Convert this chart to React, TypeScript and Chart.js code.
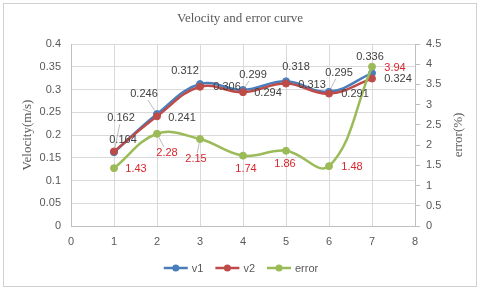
import React, { useEffect, useRef } from 'react';
import { Chart, registerables } from 'chart.js';
Chart.register(...registerables);

const titleText = 'Velocity and error curve';
const leftAxisTitle = 'Velocity(m/s)';
const rightAxisTitle = 'error(%)';
const xValues = [1, 2, 3, 4, 5, 6, 7];
const v1Values = [0.162, 0.246, 0.312, 0.299, 0.318, 0.295, 0.336];
const v2Values = [0.164, 0.241, 0.306, 0.294, 0.313, 0.291, 0.324];
const errorValues = [1.43, 2.28, 2.15, 1.74, 1.86, 1.48, 3.94];
const seriesNames = ['v1', 'v2', 'error'];
const seriesColors = ['#4A7EBB', '#BE4B48', '#9BBB59'];

// label placement (offset of label centre from its point) – styling only
const labelOffsets = [
  [[7, -34], [-13, -20], [-15, -13], [10, -15], [10, -14], [10, -19], [-2, -16]],
  [[9, -11], [25, 2], [27, 0], [25, 1], [26, 1], [26, 0], [26, 0]],
  [[22, 1], [10, 19], [-4, 20], [3, 13], [-1, 13], [23, 1], [23, 1]],
];
const leaderFlags = [
  [true, true, false, true, false, true, false],
  [false, false, false, false, false, false, false],
  [false, true, true, false, false, false, false],
];
const labelColors = ['#404040', '#404040', '#D8262D'];

const SANS = '"Liberation Sans", Arial, sans-serif';
const SERIF = '"Liberation Serif", "Times New Roman", serif';

const fmt = (v: any) => String(Math.round(Number(v) * 1000) / 1000);

const decorPlugin = {
  id: 'decor',
  beforeDraw(chart: any) {
    const ctx = chart.ctx;
    ctx.save();
    ctx.fillStyle = '#ffffff';
    ctx.fillRect(0, 0, chart.width, chart.height);
    ctx.strokeStyle = '#d0d0d0';
    ctx.lineWidth = 1;
    ctx.strokeRect(3.5, 3.5, chart.width - 7, chart.height - 7);
    ctx.restore();
  },
  afterDatasetsDraw(chart: any) {
    const ctx = chart.ctx;
    const values = [v1Values, v2Values, errorValues];
    ctx.save();
    ctx.font = `11px ${SANS}`;
    ctx.textAlign = 'center';
    ctx.textBaseline = 'middle';
    values.forEach((vals, di) => {
      const meta = chart.getDatasetMeta(di);
      vals.forEach((v, j) => {
        const pt = meta.data[j];
        const [dx, dy] = labelOffsets[di][j];
        const lx = pt.x + dx;
        const ly = pt.y + dy;
        const text = String(v);
        const w = ctx.measureText(text).width;
        if (leaderFlags[di][j]) {
          const vx = pt.x - lx;
          const vy = pt.y - ly;
          const len = Math.hypot(vx, vy);
          const ux = vx / len;
          const uy = vy / len;
          const hw = w / 2 + 1;
          const hh = 6;
          const t = Math.min(Math.abs(ux) > 1e-6 ? hw / Math.abs(ux) : 1e9, Math.abs(uy) > 1e-6 ? hh / Math.abs(uy) : 1e9);
          ctx.strokeStyle = '#a6a6a6';
          ctx.lineWidth = 0.75;
          ctx.beginPath();
          ctx.moveTo(lx + ux * t, ly + uy * t);
          ctx.lineTo(pt.x - ux * 4, pt.y - uy * 4);
          ctx.stroke();
        }
        ctx.fillStyle = labelColors[di];
        ctx.fillText(text, lx, ly);
      });
    });
    ctx.restore();
  },
  afterDraw(chart: any) {
    const ctx = chart.ctx;
    const area = chart.chartArea;
    ctx.save();
    ctx.fillStyle = '#595959';
    ctx.textAlign = 'center';
    ctx.textBaseline = 'middle';
    ctx.font = `13px ${SERIF}`;
    ctx.fillText(titleText, chart.width / 2, 19);

    const midY = (area.top + area.bottom) / 2;
    ctx.save();
    ctx.translate(28, midY);
    ctx.rotate(-Math.PI / 2);
    ctx.fillText(leftAxisTitle, 0, 0);
    ctx.restore();
    ctx.save();
    ctx.translate(459, midY);
    ctx.rotate(-Math.PI / 2);
    ctx.fillText(rightAxisTitle, 0, 0);
    ctx.restore();

    // legend
    ctx.font = `11px ${SANS}`;
    const lineLen = 24;
    const gap = 4;
    const itemGap = 12;
    const widths = seriesNames.map((n) => ctx.measureText(n).width);
    const total = widths.reduce((a, w) => a + lineLen + gap + w, 0) + itemGap * (seriesNames.length - 1);
    let x = chart.width / 2 + 1 - total / 2;
    const y = 268;
    ctx.textAlign = 'left';
    seriesNames.forEach((n, i) => {
      ctx.strokeStyle = seriesColors[i];
      ctx.lineWidth = 2.5;
      ctx.beginPath();
      ctx.moveTo(x, y);
      ctx.lineTo(x + lineLen, y);
      ctx.stroke();
      ctx.fillStyle = seriesColors[i];
      ctx.beginPath();
      ctx.arc(x + lineLen / 2, y, 3.5, 0, Math.PI * 2);
      ctx.fill();
      ctx.fillStyle = '#595959';
      ctx.fillText(n, x + lineLen + gap, y + 0.5);
      x += lineLen + gap + widths[i] + itemGap;
    });
    ctx.restore();
  },
};

export default function App() {
  const ref = useRef<HTMLCanvasElement>(null);
  useEffect(() => {
    document.body.style.margin = '0';
    const mk = (vals: number[]) => xValues.map((x, i) => ({ x, y: vals[i] }));
    const common = {
      borderWidth: 2.5,
      pointRadius: 3.5,
      pointHoverRadius: 3.5,
      pointBorderWidth: 1,
      tension: 0.4,
      fill: false,
    };
    const tickFont = { family: SANS, size: 11 };
    const chart = new Chart(ref.current!, {
      type: 'line',
      data: {
        datasets: [
          { ...common, label: seriesNames[0], data: mk(v1Values), borderColor: seriesColors[0], backgroundColor: seriesColors[0], yAxisID: 'y', order: 2 },
          { ...common, label: seriesNames[1], data: mk(v2Values), borderColor: seriesColors[1], backgroundColor: seriesColors[1], yAxisID: 'y', order: 1 },
          { ...common, label: seriesNames[2], data: mk(errorValues), borderColor: seriesColors[2], backgroundColor: seriesColors[2], yAxisID: 'y1', order: 0 },
        ],
      },
      options: {
        responsive: false,
        animation: false,
        events: [],
        layout: { padding: { top: 44, left: 0, right: 0, bottom: 0 } },
        plugins: {
          legend: { display: false },
          title: { display: false },
          tooltip: { enabled: false },
        },
        scales: {
          x: {
            type: 'linear',
            min: 0,
            max: 8,
            ticks: { stepSize: 1, padding: 9, color: '#595959', font: tickFont, callback: fmt },
            grid: { color: '#d9d9d9', drawTicks: false },
            border: { display: true, color: '#bfbfbf' },
            afterFit: (s: any) => { s.height = 64; },
          },
          y: {
            type: 'linear',
            position: 'left',
            min: 0,
            max: 0.4,
            ticks: { stepSize: 0.05, padding: 10, color: '#595959', font: tickFont, callback: fmt },
            grid: { color: '#d9d9d9', drawTicks: false },
            border: { display: true, color: '#bfbfbf' },
            afterFit: (s: any) => { s.width = 71; },
          },
          y1: {
            type: 'linear',
            position: 'right',
            min: 0,
            max: 4.5,
            ticks: { stepSize: 0.5, padding: 6, color: '#595959', font: tickFont, callback: fmt },
            grid: { drawOnChartArea: false, drawTicks: true, tickLength: 5, color: '#bfbfbf' },
            border: { display: true, color: '#bfbfbf' },
            afterFit: (s: any) => { s.width = 65; },
          },
        },
      },
      plugins: [decorPlugin],
    } as any);
    return () => chart.destroy();
  }, []);
  return (
    <div style={{ width: 480, height: 290 }}>
      <canvas ref={ref} width={480} height={290} style={{ display: 'block' }} />
    </div>
  );
}
